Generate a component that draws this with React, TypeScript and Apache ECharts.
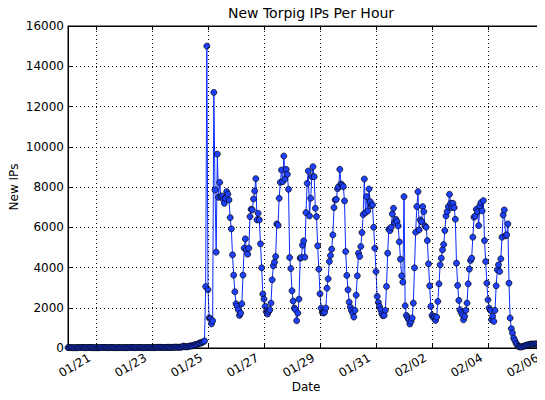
import React, { useEffect, useRef } from "react";
import * as echarts from "echarts";

// Hourly samples starting 01/20 00:00; the x value of each point is its hour index.
const startLabel = "01/20 00:00";
const tickHours = [24, 72, 120, 168, 216, 264, 312, 360, 408];
const tickLabels = ["01/21", "01/23", "01/25", "01/27", "01/29", "01/31", "02/02", "02/04", "02/06"];
const yMin = 0;
const yMax = 16000;
const yStep = 2000;

// 01/20 00:00 .. 01/24 20:00
const beforeTakeover = [
  18, 22, 25, 20, 16, 14, 12, 15, 19, 24, 28, 30, 27, 25, 22, 20, 18, 21, 24, 26, 23, 20, 17, 15,
  14, 13, 16, 20, 24, 27, 29, 26, 24, 21, 19, 22, 25, 27, 24, 21, 18, 16, 15, 17, 20, 23, 21, 18,
  16, 15, 18, 22, 25, 28, 30, 27, 25, 22, 20, 23, 26, 28, 25, 22, 19, 17, 16, 18, 22, 26, 24, 20,
  18, 17, 20, 24, 28, 32, 35, 33, 30, 27, 25, 28, 32, 35, 33, 30, 28, 30, 34, 38, 42, 40, 37, 35,
  40, 45, 60, 95, 70, 55, 60, 75, 90, 110, 95, 120, 140, 170, 150, 190, 220, 260, 240, 280, 310,
];

// 01/24 21:00 .. 01/25 05:00
const takeoverStart = [350, 3050, 15000, 2900, 1500, 1450, 1200, 1350, 12700];

// 01/25 06:00 .. 01/29 21:00
const firstDays = [
  7852, 4760, 9637, 7488, 8232, 7521, 7554, 7389, 7190, 7439, 7769, 7637, 7356, 6480, 5918, 4628,
  3620, 2794, 2198, 2066, 1901, 1620, 1736, 2198, 3620, 4959, 5422, 4876, 4661, 4959, 6529, 6893,
  6860, 7405, 7802, 8414, 6364, 6695, 6364, 5174, 3984, 2678, 2430, 2066, 1802, 1686, 1818, 1901,
  2232, 3389, 4083, 4265, 4546, 6166, 6100, 7439, 8232, 8844, 8265, 9538, 8397, 8877, 8629, 7885,
  4496, 3951, 2843, 2331, 1984, 1901, 1355, 1736, 2430, 4463, 4496, 5108, 5323, 4513, 6728, 8182,
  8794, 6562, 7439, 8513, 9009, 8513, 6943, 6529, 5075, 3918, 2694, 1984, 1769, 1736, 1785, 1984,
  2975, 3438, 4298, 4595, 4909, 5620, 6976, 7356, 7389, 7918, 8017, 8877, 8149, 8099, 8017, 7306,
];

// 01/29 22:00 .. 02/05 02:00
const lastDays = [
  4794, 3604, 2893, 2281, 2033, 1868, 1736, 1537, 1868, 2628, 3587, 4711, 4546, 5042, 5736, 6629,
  8397, 6728, 7521, 6810, 7901, 7273, 7075, 7108, 6000, 4959, 3802, 2562, 2265, 2066, 1901, 1703,
  1603, 1620, 1868, 3058, 4711, 5901, 5835, 6000, 6662, 6943, 6232, 6397, 6281, 6067, 5273, 4414,
  3587, 3273, 7521, 2099, 1620, 1521, 1405, 1190, 1322, 1488, 2232, 3984, 5752, 7025, 7769, 5868,
  6364, 6281, 7025, 6777, 6067, 6000, 5339, 4182, 3091, 2066, 1620, 1521, 1570, 1372, 1537, 2314,
  3190, 4132, 4463, 4876, 5141, 5835, 6562, 6777, 7025, 7637, 7190, 6976, 7190, 6976, 6397, 4215,
  3108, 2364, 1901, 1769, 1653, 1405, 1570, 1868, 2232, 3190, 3918, 4347, 4463, 5505, 6496, 6562,
  6893, 6777, 6083, 7058, 7224, 6810, 7323, 5339, 4298, 3223, 2397, 1984, 1868, 1405, 1570, 1322,
  1868, 3091, 3885, 4132, 3802, 4430, 5505, 6612, 6860, 5571, 5620, 6166, 3223, 1488, 959, 744,
  496, 380, 248, 165, 83,
];

// 02/05 03:00 .. 02/06 00:00
const tail = [60, 50, 60, 80, 100, 120, 140, 150, 170, 180, 200, 190, 180, 200, 210, 190, 170, 150, 140, 120, 100, 80];

const FONT = "DejaVu Sans";

export default function App() {
  const ref = useRef<HTMLDivElement>(null);

  useEffect(() => {
    if (!ref.current) return;
    const chart = echarts.init(ref.current, undefined, { renderer: "svg" });
    const values = [...beforeTakeover, ...takeoverStart, ...firstDays, ...lastDays, ...tail];
    const data = values.map((v, i) => [i, v]);
    const xMax = tickHours[tickHours.length - 1];
    const fmt = (v: number) => {
      const k = tickHours.indexOf(Math.round(v));
      return k >= 0 ? tickLabels[k] : "";
    };

    chart.setOption({
      animation: false,
      backgroundColor: "#ffffff",
      title: {
        text: "New Torpig IPs Per Hour",
        left: 306,
        top: 1,
        textAlign: "center",
        textStyle: { fontFamily: FONT, fontSize: 14, fontWeight: "normal", color: "#000" },
      },
      grid: {
        left: 68,
        right: 1,
        top: 26,
        bottom: 52,
        containLabel: false,
        outerBoundsMode: "none",
        show: true,
        borderColor: "#000",
        borderWidth: 1,
        backgroundColor: "transparent",
      },
      xAxis: [
        {
          type: "value",
          min: 0,
          max: xMax,
          name: "Date",
          nameLocation: "middle",
          nameGap: 33,
          nameMoveOverlap: false,
          nameTextStyle: { fontFamily: FONT, fontSize: 12, color: "#000", verticalAlign: "top" },
          axisLine: { show: true, onZero: false, lineStyle: { color: "#000", width: 1 } },
          axisTick: { show: true, inside: true, length: 4, customValues: tickHours, lineStyle: { color: "#000" } },
          axisLabel: {
            customValues: tickHours,
            rotate: 30,
            margin: 12,
            padding: [0, 4, 0, 0],
            verticalAlign: "bottom",
            formatter: fmt,
            fontFamily: FONT,
            fontSize: 12,
            color: "#000",
          },
          splitLine: { show: false },
        },
        {
          type: "value",
          position: "top",
          min: 0,
          max: xMax,
          axisLine: { show: true, onZero: false, lineStyle: { color: "#000", width: 1 } },
          axisTick: { show: true, inside: true, length: 4, customValues: tickHours, lineStyle: { color: "#000" } },
          axisLabel: { show: false },
          splitLine: { show: false },
        },
      ],
      yAxis: [
        {
          type: "value",
          min: yMin,
          max: yMax,
          interval: yStep,
          name: "New IPs",
          nameLocation: "middle",
          nameGap: 48,
          nameMoveOverlap: false,
          nameTextStyle: { fontFamily: FONT, fontSize: 12, color: "#000" },
          axisLine: { show: true, onZero: false, lineStyle: { color: "#000", width: 1 } },
          axisTick: { show: true, inside: true, length: 4, lineStyle: { color: "#000" } },
          axisLabel: { margin: 4, fontFamily: FONT, fontSize: 12, color: "#000", formatter: (v: number) => String(v) },
          splitLine: { show: true, lineStyle: { color: "#000", width: 1, type: [1, 3] } },
        },
        {
          type: "value",
          position: "right",
          min: yMin,
          max: yMax,
          interval: yStep,
          axisLine: { show: true, onZero: false, lineStyle: { color: "#000", width: 1 } },
          axisTick: { show: true, inside: true, length: 4, lineStyle: { color: "#000" } },
          axisLabel: { show: false },
          splitLine: { show: false },
        },
      ],
      series: [
        {
          type: "line",
          data: [],
          silent: true,
          z: 1,
          markLine: {
            silent: true,
            symbol: "none",
            label: { show: false },
            lineStyle: { color: "#000", width: 1, type: [1, 3] },
            data: tickHours.slice(0, -1).map((h) => ({ xAxis: h })),
          },
        },
        {
          name: "New IPs",
          type: "line",
          data,
          z: 3,
          symbol: "circle",
          symbolSize: 6,
          showAllSymbol: true,
          lineStyle: { color: "#0a2cff", width: 1 },
          itemStyle: { color: "#1e40ff", borderColor: "#000", borderWidth: 0.7 },
        },
      ],
    });
    return () => chart.dispose();
  }, []);

  return <div ref={ref} style={{ width: 545, height: 400, margin: -8 }} data-start={startLabel} />;
}
